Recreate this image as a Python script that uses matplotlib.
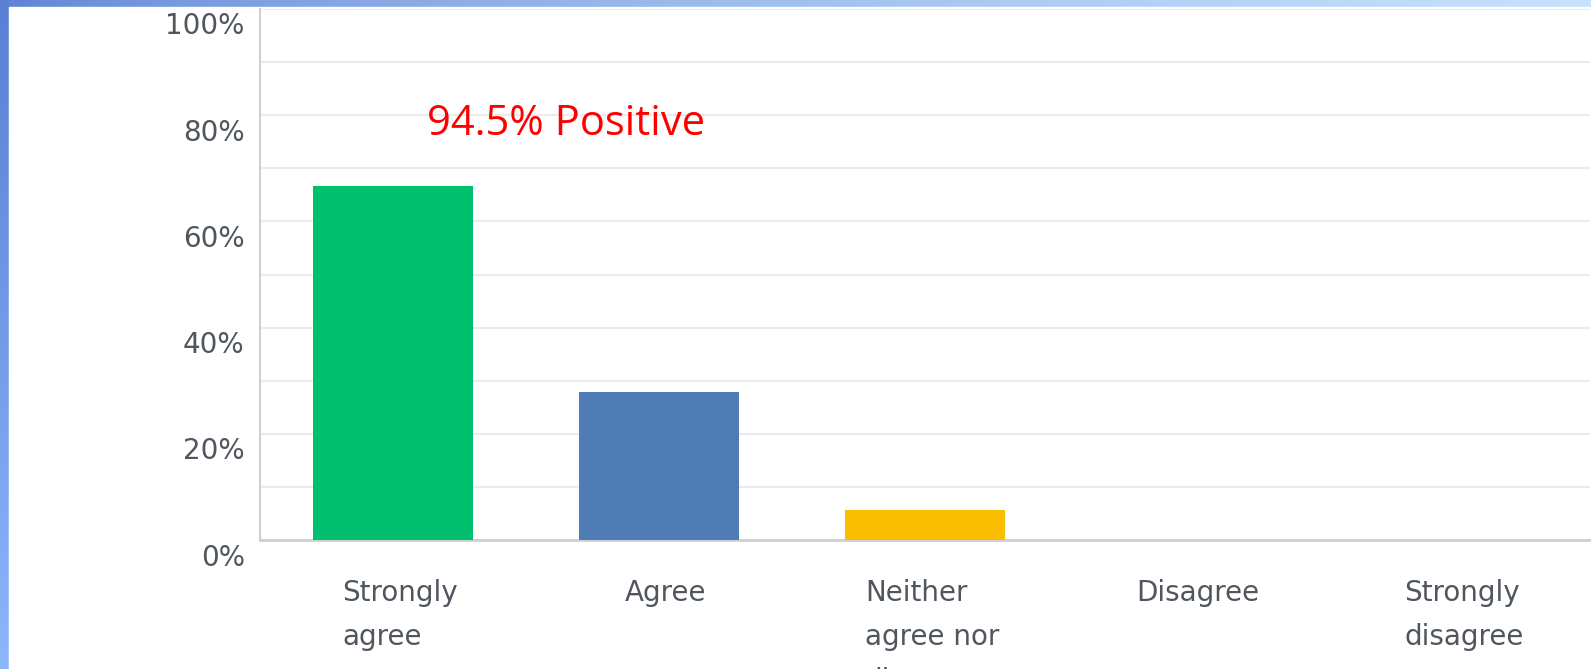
import numpy as np
import matplotlib
matplotlib.use("Agg")
import matplotlib.pyplot as plt
from matplotlib.transforms import ScaledTranslation
from matplotlib.patches import Rectangle

categories = ["Strongly\nagree", "Agree", "Neither\nagree nor\ndisagree", "Disagree", "Strongly\ndisagree"]
values = [66.7, 27.8, 5.6, 0.0, 0.0]
bar_colors = ["#00bf6f", "#507cb6", "#f9be00", "#507cb6", "#507cb6"]
ytick_vals = [0, 20, 40, 60, 80, 100]
ytick_labels = ["0%", "20%", "40%", "60%", "80%", "100%"]
note = "94.5% Positive"

W, H = 1591, 669
fig = plt.figure(figsize=(W / 100, H / 100), dpi=100)

# blue gradient frame behind the chart
bg = fig.add_axes([0, 0, 1, 1], zorder=-10)
bg.set_axis_off()
tl = np.array([0x5b, 0x7f, 0xd4]) / 255
tr = np.array([0xc6, 0xe2, 0xfd]) / 255
bl = np.array([0x8c, 0xb6, 0xfb]) / 255
u = np.linspace(0, 1, 200)[None, :, None]
v = np.linspace(0, 1, 100)[:, None, None]
grad = np.clip(tl + (tr - tl) * u ** 0.6 + (bl - tl) * v, 0, 1)
bg.imshow(grad, extent=[0, W, H, 0], aspect="auto")
bg.add_patch(Rectangle((9, 7), W, H, color="white"))
bg.set_xlim(0, W)
bg.set_ylim(H, 0)

ax = fig.add_axes([260 / W, (H - 540) / H, 1330 / W, 531 / H])
ax.set_facecolor("none")
x = np.arange(len(categories))
ax.bar(x, values, width=0.6, color=bar_colors, zorder=3)
ax.set_xlim(-0.5, len(categories) - 0.5)
ax.set_ylim(0, 100)

ax.set_yticks(ytick_vals)
ax.set_yticklabels(ytick_labels)
ax.set_yticks(np.arange(10, 100, 20), minor=True)
ax.grid(True, axis="y", which="both", color="#ebebeb", linewidth=1.5, zorder=0)
ax.tick_params(axis="y", which="both", length=0, pad=11, labelsize=20, labelcolor="#50565e")

ax.set_xticks(x)
ax.set_xticklabels(categories, multialignment="left", linespacing=1.72)
ax.tick_params(axis="x", length=0, pad=28, labelsize=20, labelcolor="#50565e")

for lbl in ax.get_yticklabels():
    lbl.set_transform(lbl.get_transform() + ScaledTranslation(0, -0.145, fig.dpi_scale_trans))
for lbl in ax.get_xticklabels():
    lbl.set_transform(lbl.get_transform() + ScaledTranslation(0.07, 0, fig.dpi_scale_trans))

for s in ["top", "right"]:
    ax.spines[s].set_visible(False)
ax.spines["left"].set_color("#d0d0d0")
ax.spines["bottom"].set_color("#cfcfcf")
ax.spines["left"].set_linewidth(1.5)
ax.spines["bottom"].set_linewidth(2)

ax.text(0.128, 78.4, note, color="red", fontsize=30, family="Open Sans",
        ha="left", va="center")

fig.savefig("out.png", dpi=100)
